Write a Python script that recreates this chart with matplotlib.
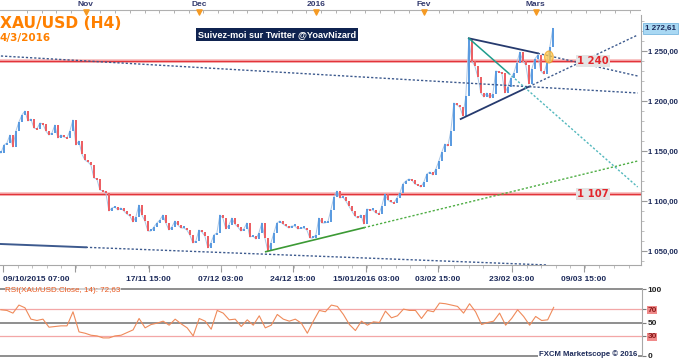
import numpy as np
import matplotlib
matplotlib.use("Agg")
import matplotlib.pyplot as plt
import matplotlib.transforms as mtransforms
from matplotlib.patches import Ellipse

plt.rcParams['font.family'] = ['Liberation Sans', 'DejaVu Sans']

# H4 closes, one sample per ~3 bars (slot index = time)
closes = [1148, 1156, 1158, 1166, 1154, 1170, 1179, 1186, 1190, 1180,
          1182, 1173, 1172, 1178, 1177, 1170, 1166, 1168, 1176, 1163,
          1166, 1164, 1163, 1170, 1181, 1156, 1160, 1147, 1141, 1139,
          1136, 1123, 1122, 1111, 1110, 1108, 1090, 1093, 1094, 1091,
          1093, 1090, 1087, 1085, 1079, 1084, 1096, 1086, 1080, 1070,
          1070, 1074, 1078, 1081, 1086, 1078, 1071, 1074, 1080, 1076,
          1073, 1073, 1071, 1066, 1058, 1060, 1071, 1069, 1065, 1053,
          1058, 1066, 1068, 1086, 1083, 1072, 1076, 1083, 1077, 1074,
          1070, 1072, 1078, 1064, 1065, 1062, 1068, 1078, 1063, 1050,
          1058, 1068, 1078, 1080, 1077, 1075, 1073, 1075, 1075, 1072,
          1073, 1073, 1071, 1063, 1063, 1066, 1083, 1078, 1078, 1079,
          1091, 1104, 1110, 1103, 1104, 1100, 1095, 1090, 1085, 1083,
          1086, 1077, 1092, 1091, 1091, 1088, 1087, 1095, 1107, 1101,
          1099, 1098, 1103, 1108, 1117, 1120, 1122, 1121, 1117, 1116,
          1114, 1119, 1127, 1129, 1126, 1132, 1140, 1149, 1157, 1155,
          1170, 1198, 1196, 1194, 1185, 1205, 1262, 1240, 1235, 1224,
          1208, 1204, 1208, 1203, 1207, 1230, 1229, 1228, 1208, 1214,
          1223, 1228, 1238, 1249, 1240, 1236, 1217, 1232, 1242, 1246,
          1230, 1227, 1238, 1254, 1272.61]

# RSI(14), one value every 2 slots
rsi = [69, 68, 64, 76, 72, 55, 53, 55, 43, 44, 45, 45, 66, 36, 34, 31,
       30, 27, 27, 30, 31, 35, 39, 56, 42, 47, 49, 52, 46, 55, 48, 42,
       30, 56, 52, 40, 68, 64, 54, 55, 44, 54, 46, 60, 42, 46, 62, 55,
       52, 55, 49, 34, 52, 68, 66, 76, 74, 62, 47, 38, 52, 46, 51, 50,
       67, 57, 60, 70, 68, 68, 56, 68, 66, 79, 78, 76, 74, 64, 78, 66,
       47, 50, 52, 64, 46, 56, 69, 59, 46, 59, 53, 54, 72.63]

levels = [1240, 1107]
level_labels = ["1 240", "1 107"]

month_names = ["Nov", "Dec", "2016", "Fev", "Mars"]
month_slots = [28.3, 66.0, 105.0, 141.0, 178.3]

date_labels = ["09/10/2015 07:00", "", "17/11 15:00", "07/12 03:00", "24/12 15:00",
               "15/01/2016 03:00", "03/02 15:00", "23/02 03:00", "09/03 15:00"]
date_slots = [0.7, 24.7, 49.3, 73.3, 97.3, 121.7, 145.7, 170.3, 194.3]

# trendlines: (slots, prices)
resist_dot = ([0, 212.3], [1245, 1208])
support_solid = ([0, 28.3], [1057, 1053.7])
support_dot = ([28.3, 182.3], [1053.7, 1036])
green_solid = ([88.3, 121], [1049.3, 1073.3])
green_dot = ([121, 212.3], [1073.3, 1140])
tri_up = ([156, 179], [1262.7, 1247.7])
tri_up_dot = ([179, 212.3], [1247.7, 1225])
tri_low = ([153.3, 176], [1182, 1214.3])
tri_low_dot = ([176, 212.3], [1214.3, 1266])
teal_solid = ([156, 169.3], [1262.7, 1227.7])
teal_dot = ([169.3, 212.3], [1227.7, 1114])

W, H = 680, 359
NAVY = '#1c2a5a'


def box(x0, y0, x1, y1):
    return [x0 / W, 1 - y1 / H, (x1 - x0) / W, (y1 - y0) / H]


fig = plt.figure(figsize=(W / 100, H / 100), dpi=100)
fig.patch.set_facecolor('white')

XL = (-0.3, 213.4)

# ---- main price panel
ax = fig.add_axes(box(0, 15, 641, 265))
ax.set_xlim(*XL)
ax.set_ylim(1036, 1286)

c = np.array(closes, dtype=float)
x = np.arange(len(c))
o = np.r_[c[0], c[:-1]]
h = c - o
h = np.where(np.abs(h) < 2.0, np.where(h >= 0, 2.0, -2.0), h)
up = c >= o
ax.plot(x, c, color='#a9c6e6', lw=0.7, zorder=2.5)
ax.bar(x[up], h[up], bottom=o[up], width=0.5, color='#5b9be0', linewidth=0, zorder=3)
ax.bar(x[~up], h[~up], bottom=o[~up], width=0.5, color='#ec6064', linewidth=0, zorder=3)

for lv in levels:
    ax.axhline(lv, color='#f7b9b9', lw=2.6, zorder=2)
    ax.axhline(lv, color='#e3343a', lw=1.0, zorder=2)
for lv, lab in zip(levels, level_labels):
    ax.text(197.3, lv, lab, color='#e3262c', fontsize=7.3, fontweight='bold',
            family=['DejaVu Sans'], ha='center', va='center', zorder=6,
            bbox=dict(boxstyle='square,pad=0.12', facecolor='#e4e4e4', edgecolor='none'))

dot_navy = dict(color='#3d5a8e', lw=1.0, ls=(0, (1.6, 1.4)), zorder=4)
ax.plot(*resist_dot, **dot_navy)
ax.plot(*support_dot, **dot_navy)
ax.plot(*support_solid, color='#3d5a8e', lw=1.4, zorder=4)
ax.plot(*green_solid, color='#3c9a35', lw=1.2, zorder=4)
ax.plot(*green_dot, color='#4fae45', lw=1.0, ls=(0, (1.6, 1.4)), zorder=4)
ax.plot(*tri_up, color='#263a6e', lw=1.3, zorder=4)
ax.plot(*tri_up_dot, **dot_navy)
ax.plot(*tri_low, color='#263a6e', lw=1.3, zorder=4)
ax.plot(*tri_low_dot, **dot_navy)
ax.plot(*teal_solid, color='#1f9c8c', lw=1.1, zorder=4)
ax.plot(*teal_dot, color='#53b8bd', lw=1.0, ls=(0, (1.6, 1.4)), zorder=4)

ax.add_patch(Ellipse((182.7, 1244), 2.9, 12, facecolor='#ffc94a', alpha=0.75,
                     edgecolor='#f0a020', lw=0.8, zorder=5))

# right price axis
ax.yaxis.tick_right()
ax.set_yticks([1050, 1100, 1150, 1200, 1250])
ax.set_yticks(np.arange(1040, 1290, 10), minor=True)
ax.set_yticklabels(['1 050,00', '1 100,00', '1 150,00', '1 200,00', '1 250,00'])
ax.tick_params(axis='y', which='major', length=4, color='#9a9a9a', labelsize=5.6,
               labelcolor=NAVY, pad=1)
ax.tick_params(axis='y', which='minor', length=2, color='#b5b5b5')
for t in ax.get_yticklabels():
    t.set_fontweight('bold')

ax.set_xticks(date_slots)
ax.set_xticks(np.arange(0.7, 213, 4.85), minor=True)
ax.set_xticklabels(date_labels)
ax.tick_params(axis='x', which='major', length=5, color='#9a9a9a', labelsize=6,
               labelcolor=NAVY, pad=3)
ax.tick_params(axis='x', which='minor', length=2.5, color='#b5b5b5')
for t in ax.get_xticklabels():
    t.set_fontweight('bold')
ax.get_xticklabels()[0].set_horizontalalignment('left')

for s in ['left', 'top']:
    ax.spines[s].set_visible(False)
ax.spines['right'].set_color('#a8a8a8')
ax.spines['bottom'].set_color('#a8a8a8')

trans = mtransforms.blended_transform_factory(ax.transAxes, ax.transData)
ax.text(1.006, closes[-1], '1 272,61', transform=trans, fontsize=5.8, fontweight='bold',
        color=NAVY, va='center', ha='left', zorder=7, clip_on=False,
        bbox=dict(boxstyle='square,pad=0.25', facecolor='#a9d8f3', edgecolor='#79b7e0', lw=0.6))

# ---- top month ruler
axt = fig.add_axes(box(0, 0, 641, 15))
axt.set_xlim(*XL)
axt.set_ylim(15, 0)
axt.axis('off')
axt.axhline(10, color='#b0b0b0', lw=0.8)
axt.axhline(14.5, color='#e6e6e6', lw=0.8)
axt.vlines(np.arange(month_slots[0] - 4 * 4.9, 213, 4.9), 10, 12.8, color='#b0b0b0', lw=0.7)
axt.scatter(month_slots, [11.6] * len(month_slots), marker='v', s=14, color='#f59a23', zorder=3)
for ms, mn in zip(month_slots, month_names):
    axt.text(ms, 5, mn, ha='center', va='center', fontsize=6, fontweight='bold', color='#333a6e')

# ---- RSI panel
axr = fig.add_axes(box(0, 289, 642, 356))
axr.set_xlim(*XL)
axr.set_ylim(0, 100)
for lv, col, lw in [(100, '#7c7c7c', 1.2), (50, '#7c7c7c', 1.2), (0, '#7c7c7c', 1.2),
                    (70, '#f3a7a7', 0.9), (30, '#f3a7a7', 0.9)]:
    axr.axhline(lv, color=col, lw=lw, clip_on=False, zorder=1)
axr.plot(np.arange(0, 2 * len(rsi), 2), rsi, color='#ef8a5a', lw=0.8, zorder=3)
axr.set_xticks([])
axr.yaxis.tick_right()
axr.set_yticks([0, 30, 50, 70, 100])
axr.set_yticklabels(['0', '30', '50', '70', '100'])
axr.tick_params(axis='y', length=3, color='#7c7c7c', labelsize=6, labelcolor='#222222', pad=1)
for t in axr.get_yticklabels():
    t.set_fontweight('bold')
    if t.get_text() in ('30', '70'):
        t.set_color('#8b1a1a')
        t.set_bbox(dict(boxstyle='square,pad=0.05', facecolor='#f08a8a', edgecolor='none'))
for s in ['left', 'top', 'bottom']:
    axr.spines[s].set_visible(False)
axr.spines['right'].set_color('#a8a8a8')

# ---- texts
fig.text(0, 1 - 24 / H, 'XAU/USD (H4)', color='#ff8000', fontsize=11.2, fontweight='bold',
         family=['DejaVu Sans'], va='center', ha='left')
fig.text(0, 1 - 38.5 / H, '4/3/2016', color='#ff8000', fontsize=7.5, fontweight='bold',
         family=['DejaVu Sans'], va='center', ha='left')
fig.text(198 / W, 1 - 34.5 / H, 'Suivez-moi sur Twitter @YoavNizard', color='white',
         fontsize=6.6, fontweight='bold', va='center', ha='left',
         bbox=dict(boxstyle='square,pad=0.2', facecolor='#0f2350', edgecolor='none'))
fig.text(5 / W, 1 - 290 / H, 'RSI(XAU/USD.Close, 14): 72,63', color='#e8581f',
         fontsize=5.8, va='center', ha='left',
         bbox=dict(boxstyle='square,pad=0.05', facecolor='white', edgecolor='none', alpha=0.6))
fig.text(637 / W, 1 - 354.5 / H, 'FXCM Marketscope \u00a9 2016', color=NAVY,
         fontsize=5.6, fontweight='bold', va='center', ha='right',
         bbox=dict(boxstyle='square,pad=0.1', facecolor='white', edgecolor='none'))

fig.savefig('out.png', dpi=100, facecolor='white')
